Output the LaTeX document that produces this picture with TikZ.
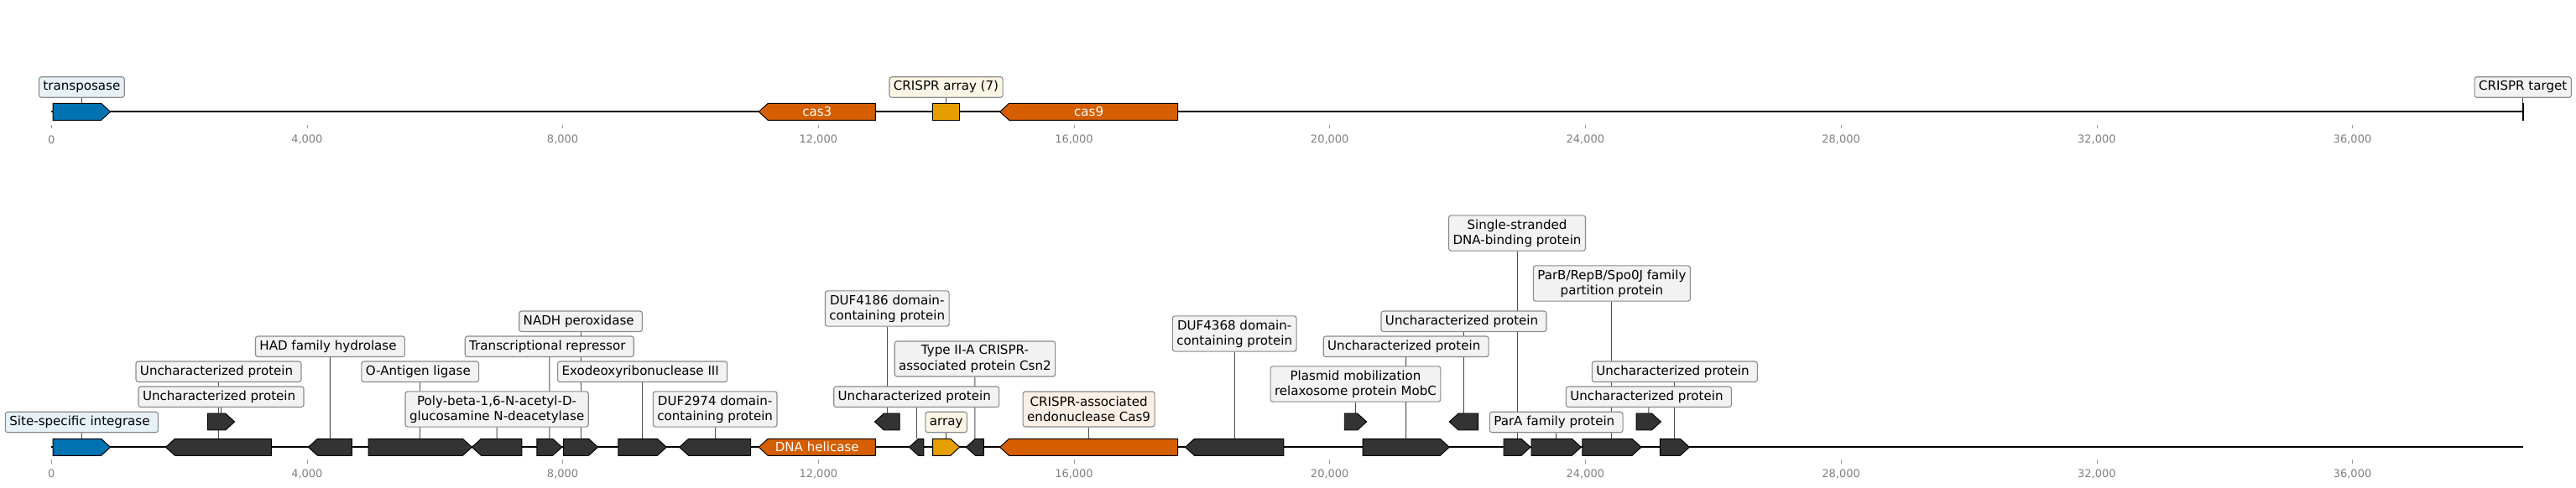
\documentclass[tikz,border=0pt]{standalone}
\usepackage{fontspec}
\setmainfont{DejaVu Sans}
\usepackage{xcolor}
\usepackage{tikz}
\usetikzlibrary{backgrounds}
\definecolor{genegray}{HTML}{333333}
\definecolor{geneblue}{HTML}{0072B2}
\definecolor{geneorange}{HTML}{D55E00}
\definecolor{geneyellow}{HTML}{E69F00}
\definecolor{boxgray}{HTML}{F2F2F2}
\definecolor{boxblue}{HTML}{E6F1F8}
\definecolor{boxorange}{HTML}{FCEFE6}
\definecolor{boxyellow}{HTML}{FCF5E6}
\definecolor{boxedge}{HTML}{8A8A8A}
\definecolor{leadline}{HTML}{4D4D4D}
\definecolor{axisgray}{HTML}{808080}

% genes: name, start (kb), end (kb), row y, style
\newcommand\tiplen{0.144}
\newcommand\fwdgene[5]{%
  \draw[#5] (#2,#4-10) -- ({#3-\tiplen},#4-10) -- (#3,#4) -- ({#3-\tiplen},#4+10) -- (#2,#4+10) -- cycle;
  \coordinate (#1) at ({(#2+#3)/2},#4-10);}
\newcommand\revgene[5]{%
  \draw[#5] (#3,#4-10) -- ({#2+\tiplen},#4-10) -- (#2,#4) -- ({#2+\tiplen},#4+10) -- (#3,#4+10) -- cycle;
  \coordinate (#1) at ({(#2+#3)/2},#4-10);}

\begin{document}
\begin{tikzpicture}[
  x=19.3485mm,y=-0.254mm,
  font=\fontsize{10.9}{13.1}\selectfont,
  tag/.style={draw=boxedge,fill=boxgray,rounded corners=2pt,line width=0.8pt,
              inner xsep=3.6pt,inner ysep=3.4pt,text height=8.3pt,text depth=2.6pt},
  tagtwo/.style={draw=boxedge,fill=boxgray,rounded corners=2pt,line width=0.8pt,
              inner xsep=3.6pt,inner ysep=3.4pt,align=center,minimum height=30.4pt},
  trail/.style={execute at end node={\hspace{0.318em}}},
  gene/.style={draw=black,line width=0.7pt,fill=genegray},
  lead/.style={draw=leadline,line width=0.7pt},
  track/.style={line width=1.45pt},
  tickmark/.style={draw=axisgray!80,line width=0.5pt},
  ticklab/.style={font=\fontsize{9.4}{11}\selectfont,text=axisgray,inner sep=0pt},
  intext/.style={text=white,inner sep=0pt}
]
\useasboundingbox (-0.8034,0) rectangle (39.498,582);

% axes
\foreach \k/\t in {0/0,4/{4,000},8/{8,000},12/{12,000},16/{16,000},20/{20,000},
                   24/{24,000},28/{28,000},32/{32,000},36/{36,000}} {
  \draw[tickmark] (\k,149.3) -- (\k,153.3);
  \node[ticklab] (ta\k) at (\k,166.7) {\t};
  \draw[tickmark] (\k,548.3) -- (\k,552.7);
  \node[ticklab] (tb\k) at (\k,565) {\t};
}

% top track
\draw[track] (0,133.3) -- (38.667,133.3);
\fwdgene{tp}{0.026}{0.924}{133.3}{gene,fill=geneblue}
\revgene{c3}{11.067}{12.893}{133.3}{gene,fill=geneorange}
\draw[gene,fill=geneyellow] (13.784,123.3) rectangle (14.212,143.3);
\coordinate (ca) at (13.998,123.3);
\revgene{c9}{14.839}{17.623}{133.3}{gene,fill=geneorange}
\coordinate (tg) at (38.667,123.3);
\draw[line width=1.5pt] (tg) -- (38.667,144);

\node[intext] (tc3) at (11.98,133.3) {cas3};
\node[intext] (tc9) at (16.231,133.3) {cas9};
\node[tag,fill=boxblue] (ltp) at (0.475,104) {transposase};
\node[tag,fill=boxyellow] (lca) at (13.998,104) {CRISPR array (7)};
\node[tag] (ltg) at (38.667,104) {CRISPR target};

% bottom track
\draw[track] (0,533.3) -- (38.667,533.3);
\fwdgene{g1}{0.026}{0.924}{533.3}{gene,fill=geneblue}
\revgene{g2}{1.789}{3.443}{533.3}{gene}
\fwdgene{g3}{2.444}{2.867}{503}{gene}
\revgene{g4}{4.020}{4.701}{533.3}{gene}
\fwdgene{g5}{4.960}{6.580}{533.3}{gene}
\revgene{g6}{6.580}{7.359}{533.3}{gene}
\fwdgene{g7}{7.596}{7.988}{533.3}{gene}
\fwdgene{g8}{8.013}{8.551}{533.3}{gene}
\fwdgene{g9}{8.869}{9.624}{533.3}{gene}
\revgene{g10}{9.825}{10.941}{533.3}{gene}
\revgene{g11}{11.067}{12.893}{533.3}{gene,fill=geneorange}
\revgene{g12}{12.882}{13.270}{503}{gene}
\revgene{g13}{13.420}{13.648}{533.3}{gene}
\fwdgene{g14}{13.788}{14.211}{533.3}{gene,fill=geneyellow}
\revgene{g15}{14.311}{14.588}{533.3}{gene}
\revgene{g16}{14.839}{17.623}{533.3}{gene,fill=geneorange}
\revgene{g17}{17.739}{19.281}{533.3}{gene}
\fwdgene{g18}{20.230}{20.577}{503}{gene}
\fwdgene{g19}{20.516}{21.871}{533.3}{gene}
\revgene{g20}{21.871}{22.322}{503}{gene}
\fwdgene{g21}{22.721}{23.141}{533.3}{gene}
\fwdgene{g22}{23.154}{23.933}{533.3}{gene}
\fwdgene{g23}{23.952}{24.874}{533.3}{gene}
\fwdgene{g24}{24.798}{25.181}{503}{gene}
\fwdgene{g25}{25.167}{25.627}{533.3}{gene}

\node[intext] (t11) at (11.98,533.3) {DNA helicase};
\node[tag,trail,fill=boxblue] (l1) at (0.475,503.5) {Site-specific integrase};
\node[tag,trail] (l2) at (2.616,443.3) {Uncharacterized protein};
\node[tag,trail] (l3) at (2.656,473.3) {Uncharacterized protein};
\node[tag,trail] (l4) at (4.361,413.3) {HAD family hydrolase};
\node[tag,trail] (l5) at (5.77,443.3) {O-Antigen ligase};
\node[tagtwo] (l6) at (6.97,488) {Poly-beta-1,6-N-acetyl-D-\\glucosamine N-deacetylase};
\node[tag,trail] (l7) at (7.792,413.3) {Transcriptional repressor};
\node[tag,trail] (l8) at (8.282,383.3) {NADH peroxidase};
\node[tag,trail] (l9) at (9.247,443.3) {Exodeoxyribonuclease III};
\node[tagtwo] (l10) at (10.383,488) {DUF2974 domain-\\containing protein};
\node[tagtwo] (l12) at (13.076,368) {DUF4186 domain-\\containing protein};
\node[tag,trail] (l13) at (13.534,473.3) {Uncharacterized protein};
\node[tag,fill=boxyellow] (l14) at (14.0,503.5) {array};
\node[tagtwo] (l15) at (14.45,428) {Type II-A CRISPR-\\associated protein Csn2};
\node[tagtwo,fill=boxorange] (l16) at (16.231,488) {CRISPR-associated\\endonuclease Cas9};
\node[tagtwo] (l17) at (18.51,398) {DUF4368 domain-\\containing protein};
\node[tagtwo] (l18) at (20.404,458) {Plasmid mobilization\\relaxosome protein MobC};
\node[tag,trail] (l19) at (21.194,413.3) {Uncharacterized protein};
\node[tag,trail] (l20) at (22.097,383.3) {Uncharacterized protein};
\node[tagtwo] (l21) at (22.931,278) {Single-stranded\\DNA-binding protein};
\node[tag,trail] (l22) at (23.544,503.5) {ParA family protein};
\node[tagtwo] (l23) at (24.413,338) {ParB/RepB/Spo0J family\\partition protein};
\node[tag,trail] (l24) at (24.99,473.3) {Uncharacterized protein};
\node[tag,trail] (l25) at (25.397,443.3) {Uncharacterized protein};

% leader lines sit behind boxes and genes
\begin{scope}[on background layer]
\draw[lead] (ltp) -- (tp);
\draw[lead] (lca) -- (ca);
\draw[lead] (ltg) -- (tg);
\draw[lead] (l1) -- (g1);
\draw[lead] (l2) -- (g2);
\draw[lead] (l3) -- (g3);
\draw[lead] (l4) -- (g4);
\draw[lead] (l5) -- (g5);
\draw[lead] (l6) -- (g6);
\draw[lead] (l7) -- (g7);
\draw[lead] (l8) -- (g8);
\draw[lead] (l9) -- (g9);
\draw[lead] (l10) -- (g10);
\draw[lead] (l12) -- (g12);
\draw[lead] (l13) -- (g13);
\draw[lead] (l14) -- (g14);
\draw[lead] (l15) -- (g15);
\draw[lead] (l16) -- (g16);
\draw[lead] (l17) -- (g17);
\draw[lead] (l18) -- (g18);
\draw[lead] (l19) -- (g19);
\draw[lead] (l20) -- (g20);
\draw[lead] (l21) -- (g21);
\draw[lead] (l22) -- (g22);
\draw[lead] (l23) -- (g23);
\draw[lead] (l24) -- (g24);
\draw[lead] (l25) -- (g25);
\end{scope}
\end{tikzpicture}
\end{document}
